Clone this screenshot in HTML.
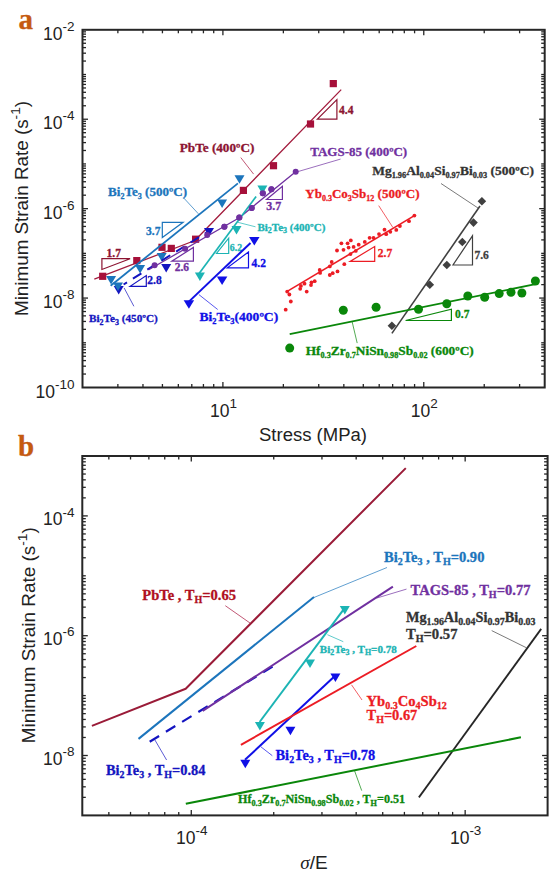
<!DOCTYPE html><html><head><meta charset="utf-8"><style>html,body{margin:0;padding:0;width:554px;height:873px;overflow:hidden;background:#fff}</style></head><body><svg width="554" height="873" viewBox="0 0 554 873" style="position:absolute;left:0;top:0">
<rect width="554" height="873" fill="#fff"/>
<text x="18.5" y="29" fill="#C55A11" stroke="#C55A11" stroke-width="0.3" font-family="Liberation Serif" font-weight="bold" font-size="29" >a</text>
<text x="18" y="455.6" fill="#C55A11" stroke="#C55A11" stroke-width="0.3" font-family="Liberation Serif" font-weight="bold" font-size="29" >b</text>
<line x1="117.87" y1="387.50" x2="117.87" y2="384.00" stroke="#262626" stroke-width="1.3" />
<line x1="117.87" y1="29.80" x2="117.87" y2="33.30" stroke="#262626" stroke-width="1.3" />
<line x1="142.97" y1="387.50" x2="142.97" y2="384.00" stroke="#262626" stroke-width="1.3" />
<line x1="142.97" y1="29.80" x2="142.97" y2="33.30" stroke="#262626" stroke-width="1.3" />
<line x1="162.43" y1="387.50" x2="162.43" y2="384.00" stroke="#262626" stroke-width="1.3" />
<line x1="162.43" y1="29.80" x2="162.43" y2="33.30" stroke="#262626" stroke-width="1.3" />
<line x1="178.34" y1="387.50" x2="178.34" y2="384.00" stroke="#262626" stroke-width="1.3" />
<line x1="178.34" y1="29.80" x2="178.34" y2="33.30" stroke="#262626" stroke-width="1.3" />
<line x1="191.79" y1="387.50" x2="191.79" y2="384.00" stroke="#262626" stroke-width="1.3" />
<line x1="191.79" y1="29.80" x2="191.79" y2="33.30" stroke="#262626" stroke-width="1.3" />
<line x1="203.43" y1="387.50" x2="203.43" y2="384.00" stroke="#262626" stroke-width="1.3" />
<line x1="203.43" y1="29.80" x2="203.43" y2="33.30" stroke="#262626" stroke-width="1.3" />
<line x1="213.71" y1="387.50" x2="213.71" y2="384.00" stroke="#262626" stroke-width="1.3" />
<line x1="213.71" y1="29.80" x2="213.71" y2="33.30" stroke="#262626" stroke-width="1.3" />
<line x1="222.90" y1="387.50" x2="222.90" y2="382.00" stroke="#262626" stroke-width="1.3" />
<line x1="222.90" y1="29.80" x2="222.90" y2="35.30" stroke="#262626" stroke-width="1.3" />
<line x1="283.37" y1="387.50" x2="283.37" y2="384.00" stroke="#262626" stroke-width="1.3" />
<line x1="283.37" y1="29.80" x2="283.37" y2="33.30" stroke="#262626" stroke-width="1.3" />
<line x1="318.74" y1="387.50" x2="318.74" y2="384.00" stroke="#262626" stroke-width="1.3" />
<line x1="318.74" y1="29.80" x2="318.74" y2="33.30" stroke="#262626" stroke-width="1.3" />
<line x1="343.83" y1="387.50" x2="343.83" y2="384.00" stroke="#262626" stroke-width="1.3" />
<line x1="343.83" y1="29.80" x2="343.83" y2="33.30" stroke="#262626" stroke-width="1.3" />
<line x1="363.30" y1="387.50" x2="363.30" y2="384.00" stroke="#262626" stroke-width="1.3" />
<line x1="363.30" y1="29.80" x2="363.30" y2="33.30" stroke="#262626" stroke-width="1.3" />
<line x1="379.20" y1="387.50" x2="379.20" y2="384.00" stroke="#262626" stroke-width="1.3" />
<line x1="379.20" y1="29.80" x2="379.20" y2="33.30" stroke="#262626" stroke-width="1.3" />
<line x1="392.65" y1="387.50" x2="392.65" y2="384.00" stroke="#262626" stroke-width="1.3" />
<line x1="392.65" y1="29.80" x2="392.65" y2="33.30" stroke="#262626" stroke-width="1.3" />
<line x1="404.30" y1="387.50" x2="404.30" y2="384.00" stroke="#262626" stroke-width="1.3" />
<line x1="404.30" y1="29.80" x2="404.30" y2="33.30" stroke="#262626" stroke-width="1.3" />
<line x1="414.58" y1="387.50" x2="414.58" y2="384.00" stroke="#262626" stroke-width="1.3" />
<line x1="414.58" y1="29.80" x2="414.58" y2="33.30" stroke="#262626" stroke-width="1.3" />
<line x1="423.77" y1="387.50" x2="423.77" y2="382.00" stroke="#262626" stroke-width="1.3" />
<line x1="423.77" y1="29.80" x2="423.77" y2="35.30" stroke="#262626" stroke-width="1.3" />
<line x1="484.23" y1="387.50" x2="484.23" y2="384.00" stroke="#262626" stroke-width="1.3" />
<line x1="484.23" y1="29.80" x2="484.23" y2="33.30" stroke="#262626" stroke-width="1.3" />
<line x1="519.60" y1="387.50" x2="519.60" y2="384.00" stroke="#262626" stroke-width="1.3" />
<line x1="519.60" y1="29.80" x2="519.60" y2="33.30" stroke="#262626" stroke-width="1.3" />
<line x1="82.50" y1="374.04" x2="86.00" y2="374.04" stroke="#262626" stroke-width="1.3" />
<line x1="544.70" y1="374.04" x2="541.20" y2="374.04" stroke="#262626" stroke-width="1.3" />
<line x1="82.50" y1="366.17" x2="86.00" y2="366.17" stroke="#262626" stroke-width="1.3" />
<line x1="544.70" y1="366.17" x2="541.20" y2="366.17" stroke="#262626" stroke-width="1.3" />
<line x1="82.50" y1="360.58" x2="86.00" y2="360.58" stroke="#262626" stroke-width="1.3" />
<line x1="544.70" y1="360.58" x2="541.20" y2="360.58" stroke="#262626" stroke-width="1.3" />
<line x1="82.50" y1="356.25" x2="86.00" y2="356.25" stroke="#262626" stroke-width="1.3" />
<line x1="544.70" y1="356.25" x2="541.20" y2="356.25" stroke="#262626" stroke-width="1.3" />
<line x1="82.50" y1="352.71" x2="86.00" y2="352.71" stroke="#262626" stroke-width="1.3" />
<line x1="544.70" y1="352.71" x2="541.20" y2="352.71" stroke="#262626" stroke-width="1.3" />
<line x1="82.50" y1="349.71" x2="86.00" y2="349.71" stroke="#262626" stroke-width="1.3" />
<line x1="544.70" y1="349.71" x2="541.20" y2="349.71" stroke="#262626" stroke-width="1.3" />
<line x1="82.50" y1="347.12" x2="86.00" y2="347.12" stroke="#262626" stroke-width="1.3" />
<line x1="544.70" y1="347.12" x2="541.20" y2="347.12" stroke="#262626" stroke-width="1.3" />
<line x1="82.50" y1="344.83" x2="86.00" y2="344.83" stroke="#262626" stroke-width="1.3" />
<line x1="544.70" y1="344.83" x2="541.20" y2="344.83" stroke="#262626" stroke-width="1.3" />
<line x1="82.50" y1="342.79" x2="86.00" y2="342.79" stroke="#262626" stroke-width="1.3" />
<line x1="544.70" y1="342.79" x2="541.20" y2="342.79" stroke="#262626" stroke-width="1.3" />
<line x1="82.50" y1="329.33" x2="86.00" y2="329.33" stroke="#262626" stroke-width="1.3" />
<line x1="544.70" y1="329.33" x2="541.20" y2="329.33" stroke="#262626" stroke-width="1.3" />
<line x1="82.50" y1="321.45" x2="86.00" y2="321.45" stroke="#262626" stroke-width="1.3" />
<line x1="544.70" y1="321.45" x2="541.20" y2="321.45" stroke="#262626" stroke-width="1.3" />
<line x1="82.50" y1="315.87" x2="86.00" y2="315.87" stroke="#262626" stroke-width="1.3" />
<line x1="544.70" y1="315.87" x2="541.20" y2="315.87" stroke="#262626" stroke-width="1.3" />
<line x1="82.50" y1="311.53" x2="86.00" y2="311.53" stroke="#262626" stroke-width="1.3" />
<line x1="544.70" y1="311.53" x2="541.20" y2="311.53" stroke="#262626" stroke-width="1.3" />
<line x1="82.50" y1="307.99" x2="86.00" y2="307.99" stroke="#262626" stroke-width="1.3" />
<line x1="544.70" y1="307.99" x2="541.20" y2="307.99" stroke="#262626" stroke-width="1.3" />
<line x1="82.50" y1="305.00" x2="86.00" y2="305.00" stroke="#262626" stroke-width="1.3" />
<line x1="544.70" y1="305.00" x2="541.20" y2="305.00" stroke="#262626" stroke-width="1.3" />
<line x1="82.50" y1="302.41" x2="86.00" y2="302.41" stroke="#262626" stroke-width="1.3" />
<line x1="544.70" y1="302.41" x2="541.20" y2="302.41" stroke="#262626" stroke-width="1.3" />
<line x1="82.50" y1="300.12" x2="86.00" y2="300.12" stroke="#262626" stroke-width="1.3" />
<line x1="544.70" y1="300.12" x2="541.20" y2="300.12" stroke="#262626" stroke-width="1.3" />
<line x1="82.50" y1="298.07" x2="88.00" y2="298.07" stroke="#262626" stroke-width="1.3" />
<line x1="544.70" y1="298.07" x2="539.20" y2="298.07" stroke="#262626" stroke-width="1.3" />
<line x1="82.50" y1="284.62" x2="86.00" y2="284.62" stroke="#262626" stroke-width="1.3" />
<line x1="544.70" y1="284.62" x2="541.20" y2="284.62" stroke="#262626" stroke-width="1.3" />
<line x1="82.50" y1="276.74" x2="86.00" y2="276.74" stroke="#262626" stroke-width="1.3" />
<line x1="544.70" y1="276.74" x2="541.20" y2="276.74" stroke="#262626" stroke-width="1.3" />
<line x1="82.50" y1="271.16" x2="86.00" y2="271.16" stroke="#262626" stroke-width="1.3" />
<line x1="544.70" y1="271.16" x2="541.20" y2="271.16" stroke="#262626" stroke-width="1.3" />
<line x1="82.50" y1="266.82" x2="86.00" y2="266.82" stroke="#262626" stroke-width="1.3" />
<line x1="544.70" y1="266.82" x2="541.20" y2="266.82" stroke="#262626" stroke-width="1.3" />
<line x1="82.50" y1="263.28" x2="86.00" y2="263.28" stroke="#262626" stroke-width="1.3" />
<line x1="544.70" y1="263.28" x2="541.20" y2="263.28" stroke="#262626" stroke-width="1.3" />
<line x1="82.50" y1="260.29" x2="86.00" y2="260.29" stroke="#262626" stroke-width="1.3" />
<line x1="544.70" y1="260.29" x2="541.20" y2="260.29" stroke="#262626" stroke-width="1.3" />
<line x1="82.50" y1="257.70" x2="86.00" y2="257.70" stroke="#262626" stroke-width="1.3" />
<line x1="544.70" y1="257.70" x2="541.20" y2="257.70" stroke="#262626" stroke-width="1.3" />
<line x1="82.50" y1="255.41" x2="86.00" y2="255.41" stroke="#262626" stroke-width="1.3" />
<line x1="544.70" y1="255.41" x2="541.20" y2="255.41" stroke="#262626" stroke-width="1.3" />
<line x1="82.50" y1="253.36" x2="86.00" y2="253.36" stroke="#262626" stroke-width="1.3" />
<line x1="544.70" y1="253.36" x2="541.20" y2="253.36" stroke="#262626" stroke-width="1.3" />
<line x1="82.50" y1="239.90" x2="86.00" y2="239.90" stroke="#262626" stroke-width="1.3" />
<line x1="544.70" y1="239.90" x2="541.20" y2="239.90" stroke="#262626" stroke-width="1.3" />
<line x1="82.50" y1="232.03" x2="86.00" y2="232.03" stroke="#262626" stroke-width="1.3" />
<line x1="544.70" y1="232.03" x2="541.20" y2="232.03" stroke="#262626" stroke-width="1.3" />
<line x1="82.50" y1="226.44" x2="86.00" y2="226.44" stroke="#262626" stroke-width="1.3" />
<line x1="544.70" y1="226.44" x2="541.20" y2="226.44" stroke="#262626" stroke-width="1.3" />
<line x1="82.50" y1="222.11" x2="86.00" y2="222.11" stroke="#262626" stroke-width="1.3" />
<line x1="544.70" y1="222.11" x2="541.20" y2="222.11" stroke="#262626" stroke-width="1.3" />
<line x1="82.50" y1="218.57" x2="86.00" y2="218.57" stroke="#262626" stroke-width="1.3" />
<line x1="544.70" y1="218.57" x2="541.20" y2="218.57" stroke="#262626" stroke-width="1.3" />
<line x1="82.50" y1="215.58" x2="86.00" y2="215.58" stroke="#262626" stroke-width="1.3" />
<line x1="544.70" y1="215.58" x2="541.20" y2="215.58" stroke="#262626" stroke-width="1.3" />
<line x1="82.50" y1="212.98" x2="86.00" y2="212.98" stroke="#262626" stroke-width="1.3" />
<line x1="544.70" y1="212.98" x2="541.20" y2="212.98" stroke="#262626" stroke-width="1.3" />
<line x1="82.50" y1="210.70" x2="86.00" y2="210.70" stroke="#262626" stroke-width="1.3" />
<line x1="544.70" y1="210.70" x2="541.20" y2="210.70" stroke="#262626" stroke-width="1.3" />
<line x1="82.50" y1="208.65" x2="88.00" y2="208.65" stroke="#262626" stroke-width="1.3" />
<line x1="544.70" y1="208.65" x2="539.20" y2="208.65" stroke="#262626" stroke-width="1.3" />
<line x1="82.50" y1="195.19" x2="86.00" y2="195.19" stroke="#262626" stroke-width="1.3" />
<line x1="544.70" y1="195.19" x2="541.20" y2="195.19" stroke="#262626" stroke-width="1.3" />
<line x1="82.50" y1="187.32" x2="86.00" y2="187.32" stroke="#262626" stroke-width="1.3" />
<line x1="544.70" y1="187.32" x2="541.20" y2="187.32" stroke="#262626" stroke-width="1.3" />
<line x1="82.50" y1="181.73" x2="86.00" y2="181.73" stroke="#262626" stroke-width="1.3" />
<line x1="544.70" y1="181.73" x2="541.20" y2="181.73" stroke="#262626" stroke-width="1.3" />
<line x1="82.50" y1="177.40" x2="86.00" y2="177.40" stroke="#262626" stroke-width="1.3" />
<line x1="544.70" y1="177.40" x2="541.20" y2="177.40" stroke="#262626" stroke-width="1.3" />
<line x1="82.50" y1="173.86" x2="86.00" y2="173.86" stroke="#262626" stroke-width="1.3" />
<line x1="544.70" y1="173.86" x2="541.20" y2="173.86" stroke="#262626" stroke-width="1.3" />
<line x1="82.50" y1="170.86" x2="86.00" y2="170.86" stroke="#262626" stroke-width="1.3" />
<line x1="544.70" y1="170.86" x2="541.20" y2="170.86" stroke="#262626" stroke-width="1.3" />
<line x1="82.50" y1="168.27" x2="86.00" y2="168.27" stroke="#262626" stroke-width="1.3" />
<line x1="544.70" y1="168.27" x2="541.20" y2="168.27" stroke="#262626" stroke-width="1.3" />
<line x1="82.50" y1="165.98" x2="86.00" y2="165.98" stroke="#262626" stroke-width="1.3" />
<line x1="544.70" y1="165.98" x2="541.20" y2="165.98" stroke="#262626" stroke-width="1.3" />
<line x1="82.50" y1="163.94" x2="86.00" y2="163.94" stroke="#262626" stroke-width="1.3" />
<line x1="544.70" y1="163.94" x2="541.20" y2="163.94" stroke="#262626" stroke-width="1.3" />
<line x1="82.50" y1="150.48" x2="86.00" y2="150.48" stroke="#262626" stroke-width="1.3" />
<line x1="544.70" y1="150.48" x2="541.20" y2="150.48" stroke="#262626" stroke-width="1.3" />
<line x1="82.50" y1="142.60" x2="86.00" y2="142.60" stroke="#262626" stroke-width="1.3" />
<line x1="544.70" y1="142.60" x2="541.20" y2="142.60" stroke="#262626" stroke-width="1.3" />
<line x1="82.50" y1="137.02" x2="86.00" y2="137.02" stroke="#262626" stroke-width="1.3" />
<line x1="544.70" y1="137.02" x2="541.20" y2="137.02" stroke="#262626" stroke-width="1.3" />
<line x1="82.50" y1="132.68" x2="86.00" y2="132.68" stroke="#262626" stroke-width="1.3" />
<line x1="544.70" y1="132.68" x2="541.20" y2="132.68" stroke="#262626" stroke-width="1.3" />
<line x1="82.50" y1="129.14" x2="86.00" y2="129.14" stroke="#262626" stroke-width="1.3" />
<line x1="544.70" y1="129.14" x2="541.20" y2="129.14" stroke="#262626" stroke-width="1.3" />
<line x1="82.50" y1="126.15" x2="86.00" y2="126.15" stroke="#262626" stroke-width="1.3" />
<line x1="544.70" y1="126.15" x2="541.20" y2="126.15" stroke="#262626" stroke-width="1.3" />
<line x1="82.50" y1="123.56" x2="86.00" y2="123.56" stroke="#262626" stroke-width="1.3" />
<line x1="544.70" y1="123.56" x2="541.20" y2="123.56" stroke="#262626" stroke-width="1.3" />
<line x1="82.50" y1="121.27" x2="86.00" y2="121.27" stroke="#262626" stroke-width="1.3" />
<line x1="544.70" y1="121.27" x2="541.20" y2="121.27" stroke="#262626" stroke-width="1.3" />
<line x1="82.50" y1="119.23" x2="88.00" y2="119.23" stroke="#262626" stroke-width="1.3" />
<line x1="544.70" y1="119.23" x2="539.20" y2="119.23" stroke="#262626" stroke-width="1.3" />
<line x1="82.50" y1="105.77" x2="86.00" y2="105.77" stroke="#262626" stroke-width="1.3" />
<line x1="544.70" y1="105.77" x2="541.20" y2="105.77" stroke="#262626" stroke-width="1.3" />
<line x1="82.50" y1="97.89" x2="86.00" y2="97.89" stroke="#262626" stroke-width="1.3" />
<line x1="544.70" y1="97.89" x2="541.20" y2="97.89" stroke="#262626" stroke-width="1.3" />
<line x1="82.50" y1="92.31" x2="86.00" y2="92.31" stroke="#262626" stroke-width="1.3" />
<line x1="544.70" y1="92.31" x2="541.20" y2="92.31" stroke="#262626" stroke-width="1.3" />
<line x1="82.50" y1="87.97" x2="86.00" y2="87.97" stroke="#262626" stroke-width="1.3" />
<line x1="544.70" y1="87.97" x2="541.20" y2="87.97" stroke="#262626" stroke-width="1.3" />
<line x1="82.50" y1="84.43" x2="86.00" y2="84.43" stroke="#262626" stroke-width="1.3" />
<line x1="544.70" y1="84.43" x2="541.20" y2="84.43" stroke="#262626" stroke-width="1.3" />
<line x1="82.50" y1="81.44" x2="86.00" y2="81.44" stroke="#262626" stroke-width="1.3" />
<line x1="544.70" y1="81.44" x2="541.20" y2="81.44" stroke="#262626" stroke-width="1.3" />
<line x1="82.50" y1="78.85" x2="86.00" y2="78.85" stroke="#262626" stroke-width="1.3" />
<line x1="544.70" y1="78.85" x2="541.20" y2="78.85" stroke="#262626" stroke-width="1.3" />
<line x1="82.50" y1="76.56" x2="86.00" y2="76.56" stroke="#262626" stroke-width="1.3" />
<line x1="544.70" y1="76.56" x2="541.20" y2="76.56" stroke="#262626" stroke-width="1.3" />
<line x1="82.50" y1="74.51" x2="86.00" y2="74.51" stroke="#262626" stroke-width="1.3" />
<line x1="544.70" y1="74.51" x2="541.20" y2="74.51" stroke="#262626" stroke-width="1.3" />
<line x1="82.50" y1="61.05" x2="86.00" y2="61.05" stroke="#262626" stroke-width="1.3" />
<line x1="544.70" y1="61.05" x2="541.20" y2="61.05" stroke="#262626" stroke-width="1.3" />
<line x1="82.50" y1="53.18" x2="86.00" y2="53.18" stroke="#262626" stroke-width="1.3" />
<line x1="544.70" y1="53.18" x2="541.20" y2="53.18" stroke="#262626" stroke-width="1.3" />
<line x1="82.50" y1="47.59" x2="86.00" y2="47.59" stroke="#262626" stroke-width="1.3" />
<line x1="544.70" y1="47.59" x2="541.20" y2="47.59" stroke="#262626" stroke-width="1.3" />
<line x1="82.50" y1="43.26" x2="86.00" y2="43.26" stroke="#262626" stroke-width="1.3" />
<line x1="544.70" y1="43.26" x2="541.20" y2="43.26" stroke="#262626" stroke-width="1.3" />
<line x1="82.50" y1="39.72" x2="86.00" y2="39.72" stroke="#262626" stroke-width="1.3" />
<line x1="544.70" y1="39.72" x2="541.20" y2="39.72" stroke="#262626" stroke-width="1.3" />
<line x1="82.50" y1="36.73" x2="86.00" y2="36.73" stroke="#262626" stroke-width="1.3" />
<line x1="544.70" y1="36.73" x2="541.20" y2="36.73" stroke="#262626" stroke-width="1.3" />
<line x1="82.50" y1="34.13" x2="86.00" y2="34.13" stroke="#262626" stroke-width="1.3" />
<line x1="544.70" y1="34.13" x2="541.20" y2="34.13" stroke="#262626" stroke-width="1.3" />
<line x1="82.50" y1="31.85" x2="86.00" y2="31.85" stroke="#262626" stroke-width="1.3" />
<line x1="544.70" y1="31.85" x2="541.20" y2="31.85" stroke="#262626" stroke-width="1.3" />
<rect x="82.5" y="29.8" width="462.20" height="357.70" fill="none" stroke="#262626" stroke-width="2"/>
<text x="74.5" y="39.80" text-anchor="end" fill="#222" font-family="Liberation Sans" font-size="17.5">10<tspan font-size="13.5" dy="-8.8">-2</tspan></text>
<text x="74.5" y="129.23" text-anchor="end" fill="#222" font-family="Liberation Sans" font-size="17.5">10<tspan font-size="13.5" dy="-8.8">-4</tspan></text>
<text x="74.5" y="218.65" text-anchor="end" fill="#222" font-family="Liberation Sans" font-size="17.5">10<tspan font-size="13.5" dy="-8.8">-6</tspan></text>
<text x="74.5" y="308.07" text-anchor="end" fill="#222" font-family="Liberation Sans" font-size="17.5">10<tspan font-size="13.5" dy="-8.8">-8</tspan></text>
<text x="74.5" y="397.50" text-anchor="end" fill="#222" font-family="Liberation Sans" font-size="17.5">10<tspan font-size="13.5" dy="-8.8">-10</tspan></text>
<text x="223.40" y="417.00" text-anchor="middle" fill="#222" font-family="Liberation Sans" font-size="17.5">10<tspan font-size="13.5" dy="-8.8">1</tspan></text>
<text x="424.27" y="417.00" text-anchor="middle" fill="#222" font-family="Liberation Sans" font-size="17.5">10<tspan font-size="13.5" dy="-8.8">2</tspan></text>
<text x="313" y="440.6" text-anchor="middle" fill="#222" font-family="Liberation Sans" font-size="17.5" textLength="108" lengthAdjust="spacingAndGlyphs">Stress (MPa)</text>
<text transform="translate(28.3,208.5) rotate(-90)" text-anchor="middle" fill="#222" font-family="Liberation Sans" font-size="18" textLength="215" lengthAdjust="spacingAndGlyphs">Minimum Strain Rate (s<tspan font-size="13" dy="-8">-1</tspan><tspan dy="8">)</tspan></text>
<line x1="108.84" y1="815.40" x2="108.84" y2="811.90" stroke="#262626" stroke-width="1.3" />
<line x1="108.84" y1="456.00" x2="108.84" y2="459.50" stroke="#262626" stroke-width="1.3" />
<line x1="130.53" y1="815.40" x2="130.53" y2="811.90" stroke="#262626" stroke-width="1.3" />
<line x1="130.53" y1="456.00" x2="130.53" y2="459.50" stroke="#262626" stroke-width="1.3" />
<line x1="148.86" y1="815.40" x2="148.86" y2="811.90" stroke="#262626" stroke-width="1.3" />
<line x1="148.86" y1="456.00" x2="148.86" y2="459.50" stroke="#262626" stroke-width="1.3" />
<line x1="164.74" y1="815.40" x2="164.74" y2="811.90" stroke="#262626" stroke-width="1.3" />
<line x1="164.74" y1="456.00" x2="164.74" y2="459.50" stroke="#262626" stroke-width="1.3" />
<line x1="178.75" y1="815.40" x2="178.75" y2="811.90" stroke="#262626" stroke-width="1.3" />
<line x1="178.75" y1="456.00" x2="178.75" y2="459.50" stroke="#262626" stroke-width="1.3" />
<line x1="191.28" y1="815.40" x2="191.28" y2="809.90" stroke="#262626" stroke-width="1.3" />
<line x1="191.28" y1="456.00" x2="191.28" y2="461.50" stroke="#262626" stroke-width="1.3" />
<line x1="273.73" y1="815.40" x2="273.73" y2="811.90" stroke="#262626" stroke-width="1.3" />
<line x1="273.73" y1="456.00" x2="273.73" y2="459.50" stroke="#262626" stroke-width="1.3" />
<line x1="321.95" y1="815.40" x2="321.95" y2="811.90" stroke="#262626" stroke-width="1.3" />
<line x1="321.95" y1="456.00" x2="321.95" y2="459.50" stroke="#262626" stroke-width="1.3" />
<line x1="356.17" y1="815.40" x2="356.17" y2="811.90" stroke="#262626" stroke-width="1.3" />
<line x1="356.17" y1="456.00" x2="356.17" y2="459.50" stroke="#262626" stroke-width="1.3" />
<line x1="382.71" y1="815.40" x2="382.71" y2="811.90" stroke="#262626" stroke-width="1.3" />
<line x1="382.71" y1="456.00" x2="382.71" y2="459.50" stroke="#262626" stroke-width="1.3" />
<line x1="404.40" y1="815.40" x2="404.40" y2="811.90" stroke="#262626" stroke-width="1.3" />
<line x1="404.40" y1="456.00" x2="404.40" y2="459.50" stroke="#262626" stroke-width="1.3" />
<line x1="422.73" y1="815.40" x2="422.73" y2="811.90" stroke="#262626" stroke-width="1.3" />
<line x1="422.73" y1="456.00" x2="422.73" y2="459.50" stroke="#262626" stroke-width="1.3" />
<line x1="438.62" y1="815.40" x2="438.62" y2="811.90" stroke="#262626" stroke-width="1.3" />
<line x1="438.62" y1="456.00" x2="438.62" y2="459.50" stroke="#262626" stroke-width="1.3" />
<line x1="452.62" y1="815.40" x2="452.62" y2="811.90" stroke="#262626" stroke-width="1.3" />
<line x1="452.62" y1="456.00" x2="452.62" y2="459.50" stroke="#262626" stroke-width="1.3" />
<line x1="465.16" y1="815.40" x2="465.16" y2="809.90" stroke="#262626" stroke-width="1.3" />
<line x1="465.16" y1="456.00" x2="465.16" y2="461.50" stroke="#262626" stroke-width="1.3" />
<line x1="82.30" y1="797.37" x2="85.80" y2="797.37" stroke="#262626" stroke-width="1.3" />
<line x1="547.60" y1="797.37" x2="544.10" y2="797.37" stroke="#262626" stroke-width="1.3" />
<line x1="82.30" y1="786.82" x2="85.80" y2="786.82" stroke="#262626" stroke-width="1.3" />
<line x1="547.60" y1="786.82" x2="544.10" y2="786.82" stroke="#262626" stroke-width="1.3" />
<line x1="82.30" y1="779.34" x2="85.80" y2="779.34" stroke="#262626" stroke-width="1.3" />
<line x1="547.60" y1="779.34" x2="544.10" y2="779.34" stroke="#262626" stroke-width="1.3" />
<line x1="82.30" y1="773.53" x2="85.80" y2="773.53" stroke="#262626" stroke-width="1.3" />
<line x1="547.60" y1="773.53" x2="544.10" y2="773.53" stroke="#262626" stroke-width="1.3" />
<line x1="82.30" y1="768.79" x2="85.80" y2="768.79" stroke="#262626" stroke-width="1.3" />
<line x1="547.60" y1="768.79" x2="544.10" y2="768.79" stroke="#262626" stroke-width="1.3" />
<line x1="82.30" y1="764.78" x2="85.80" y2="764.78" stroke="#262626" stroke-width="1.3" />
<line x1="547.60" y1="764.78" x2="544.10" y2="764.78" stroke="#262626" stroke-width="1.3" />
<line x1="82.30" y1="761.30" x2="85.80" y2="761.30" stroke="#262626" stroke-width="1.3" />
<line x1="547.60" y1="761.30" x2="544.10" y2="761.30" stroke="#262626" stroke-width="1.3" />
<line x1="82.30" y1="758.24" x2="85.80" y2="758.24" stroke="#262626" stroke-width="1.3" />
<line x1="547.60" y1="758.24" x2="544.10" y2="758.24" stroke="#262626" stroke-width="1.3" />
<line x1="82.30" y1="755.50" x2="87.80" y2="755.50" stroke="#262626" stroke-width="1.3" />
<line x1="547.60" y1="755.50" x2="542.10" y2="755.50" stroke="#262626" stroke-width="1.3" />
<line x1="82.30" y1="737.47" x2="85.80" y2="737.47" stroke="#262626" stroke-width="1.3" />
<line x1="547.60" y1="737.47" x2="544.10" y2="737.47" stroke="#262626" stroke-width="1.3" />
<line x1="82.30" y1="726.92" x2="85.80" y2="726.92" stroke="#262626" stroke-width="1.3" />
<line x1="547.60" y1="726.92" x2="544.10" y2="726.92" stroke="#262626" stroke-width="1.3" />
<line x1="82.30" y1="719.44" x2="85.80" y2="719.44" stroke="#262626" stroke-width="1.3" />
<line x1="547.60" y1="719.44" x2="544.10" y2="719.44" stroke="#262626" stroke-width="1.3" />
<line x1="82.30" y1="713.63" x2="85.80" y2="713.63" stroke="#262626" stroke-width="1.3" />
<line x1="547.60" y1="713.63" x2="544.10" y2="713.63" stroke="#262626" stroke-width="1.3" />
<line x1="82.30" y1="708.89" x2="85.80" y2="708.89" stroke="#262626" stroke-width="1.3" />
<line x1="547.60" y1="708.89" x2="544.10" y2="708.89" stroke="#262626" stroke-width="1.3" />
<line x1="82.30" y1="704.88" x2="85.80" y2="704.88" stroke="#262626" stroke-width="1.3" />
<line x1="547.60" y1="704.88" x2="544.10" y2="704.88" stroke="#262626" stroke-width="1.3" />
<line x1="82.30" y1="701.40" x2="85.80" y2="701.40" stroke="#262626" stroke-width="1.3" />
<line x1="547.60" y1="701.40" x2="544.10" y2="701.40" stroke="#262626" stroke-width="1.3" />
<line x1="82.30" y1="698.34" x2="85.80" y2="698.34" stroke="#262626" stroke-width="1.3" />
<line x1="547.60" y1="698.34" x2="544.10" y2="698.34" stroke="#262626" stroke-width="1.3" />
<line x1="82.30" y1="695.60" x2="85.80" y2="695.60" stroke="#262626" stroke-width="1.3" />
<line x1="547.60" y1="695.60" x2="544.10" y2="695.60" stroke="#262626" stroke-width="1.3" />
<line x1="82.30" y1="677.57" x2="85.80" y2="677.57" stroke="#262626" stroke-width="1.3" />
<line x1="547.60" y1="677.57" x2="544.10" y2="677.57" stroke="#262626" stroke-width="1.3" />
<line x1="82.30" y1="667.02" x2="85.80" y2="667.02" stroke="#262626" stroke-width="1.3" />
<line x1="547.60" y1="667.02" x2="544.10" y2="667.02" stroke="#262626" stroke-width="1.3" />
<line x1="82.30" y1="659.54" x2="85.80" y2="659.54" stroke="#262626" stroke-width="1.3" />
<line x1="547.60" y1="659.54" x2="544.10" y2="659.54" stroke="#262626" stroke-width="1.3" />
<line x1="82.30" y1="653.73" x2="85.80" y2="653.73" stroke="#262626" stroke-width="1.3" />
<line x1="547.60" y1="653.73" x2="544.10" y2="653.73" stroke="#262626" stroke-width="1.3" />
<line x1="82.30" y1="648.99" x2="85.80" y2="648.99" stroke="#262626" stroke-width="1.3" />
<line x1="547.60" y1="648.99" x2="544.10" y2="648.99" stroke="#262626" stroke-width="1.3" />
<line x1="82.30" y1="644.98" x2="85.80" y2="644.98" stroke="#262626" stroke-width="1.3" />
<line x1="547.60" y1="644.98" x2="544.10" y2="644.98" stroke="#262626" stroke-width="1.3" />
<line x1="82.30" y1="641.50" x2="85.80" y2="641.50" stroke="#262626" stroke-width="1.3" />
<line x1="547.60" y1="641.50" x2="544.10" y2="641.50" stroke="#262626" stroke-width="1.3" />
<line x1="82.30" y1="638.44" x2="85.80" y2="638.44" stroke="#262626" stroke-width="1.3" />
<line x1="547.60" y1="638.44" x2="544.10" y2="638.44" stroke="#262626" stroke-width="1.3" />
<line x1="82.30" y1="635.70" x2="87.80" y2="635.70" stroke="#262626" stroke-width="1.3" />
<line x1="547.60" y1="635.70" x2="542.10" y2="635.70" stroke="#262626" stroke-width="1.3" />
<line x1="82.30" y1="617.67" x2="85.80" y2="617.67" stroke="#262626" stroke-width="1.3" />
<line x1="547.60" y1="617.67" x2="544.10" y2="617.67" stroke="#262626" stroke-width="1.3" />
<line x1="82.30" y1="607.12" x2="85.80" y2="607.12" stroke="#262626" stroke-width="1.3" />
<line x1="547.60" y1="607.12" x2="544.10" y2="607.12" stroke="#262626" stroke-width="1.3" />
<line x1="82.30" y1="599.64" x2="85.80" y2="599.64" stroke="#262626" stroke-width="1.3" />
<line x1="547.60" y1="599.64" x2="544.10" y2="599.64" stroke="#262626" stroke-width="1.3" />
<line x1="82.30" y1="593.83" x2="85.80" y2="593.83" stroke="#262626" stroke-width="1.3" />
<line x1="547.60" y1="593.83" x2="544.10" y2="593.83" stroke="#262626" stroke-width="1.3" />
<line x1="82.30" y1="589.09" x2="85.80" y2="589.09" stroke="#262626" stroke-width="1.3" />
<line x1="547.60" y1="589.09" x2="544.10" y2="589.09" stroke="#262626" stroke-width="1.3" />
<line x1="82.30" y1="585.08" x2="85.80" y2="585.08" stroke="#262626" stroke-width="1.3" />
<line x1="547.60" y1="585.08" x2="544.10" y2="585.08" stroke="#262626" stroke-width="1.3" />
<line x1="82.30" y1="581.60" x2="85.80" y2="581.60" stroke="#262626" stroke-width="1.3" />
<line x1="547.60" y1="581.60" x2="544.10" y2="581.60" stroke="#262626" stroke-width="1.3" />
<line x1="82.30" y1="578.54" x2="85.80" y2="578.54" stroke="#262626" stroke-width="1.3" />
<line x1="547.60" y1="578.54" x2="544.10" y2="578.54" stroke="#262626" stroke-width="1.3" />
<line x1="82.30" y1="575.80" x2="85.80" y2="575.80" stroke="#262626" stroke-width="1.3" />
<line x1="547.60" y1="575.80" x2="544.10" y2="575.80" stroke="#262626" stroke-width="1.3" />
<line x1="82.30" y1="557.77" x2="85.80" y2="557.77" stroke="#262626" stroke-width="1.3" />
<line x1="547.60" y1="557.77" x2="544.10" y2="557.77" stroke="#262626" stroke-width="1.3" />
<line x1="82.30" y1="547.22" x2="85.80" y2="547.22" stroke="#262626" stroke-width="1.3" />
<line x1="547.60" y1="547.22" x2="544.10" y2="547.22" stroke="#262626" stroke-width="1.3" />
<line x1="82.30" y1="539.74" x2="85.80" y2="539.74" stroke="#262626" stroke-width="1.3" />
<line x1="547.60" y1="539.74" x2="544.10" y2="539.74" stroke="#262626" stroke-width="1.3" />
<line x1="82.30" y1="533.93" x2="85.80" y2="533.93" stroke="#262626" stroke-width="1.3" />
<line x1="547.60" y1="533.93" x2="544.10" y2="533.93" stroke="#262626" stroke-width="1.3" />
<line x1="82.30" y1="529.19" x2="85.80" y2="529.19" stroke="#262626" stroke-width="1.3" />
<line x1="547.60" y1="529.19" x2="544.10" y2="529.19" stroke="#262626" stroke-width="1.3" />
<line x1="82.30" y1="525.18" x2="85.80" y2="525.18" stroke="#262626" stroke-width="1.3" />
<line x1="547.60" y1="525.18" x2="544.10" y2="525.18" stroke="#262626" stroke-width="1.3" />
<line x1="82.30" y1="521.70" x2="85.80" y2="521.70" stroke="#262626" stroke-width="1.3" />
<line x1="547.60" y1="521.70" x2="544.10" y2="521.70" stroke="#262626" stroke-width="1.3" />
<line x1="82.30" y1="518.64" x2="85.80" y2="518.64" stroke="#262626" stroke-width="1.3" />
<line x1="547.60" y1="518.64" x2="544.10" y2="518.64" stroke="#262626" stroke-width="1.3" />
<line x1="82.30" y1="515.90" x2="87.80" y2="515.90" stroke="#262626" stroke-width="1.3" />
<line x1="547.60" y1="515.90" x2="542.10" y2="515.90" stroke="#262626" stroke-width="1.3" />
<line x1="82.30" y1="497.87" x2="85.80" y2="497.87" stroke="#262626" stroke-width="1.3" />
<line x1="547.60" y1="497.87" x2="544.10" y2="497.87" stroke="#262626" stroke-width="1.3" />
<line x1="82.30" y1="487.32" x2="85.80" y2="487.32" stroke="#262626" stroke-width="1.3" />
<line x1="547.60" y1="487.32" x2="544.10" y2="487.32" stroke="#262626" stroke-width="1.3" />
<line x1="82.30" y1="479.84" x2="85.80" y2="479.84" stroke="#262626" stroke-width="1.3" />
<line x1="547.60" y1="479.84" x2="544.10" y2="479.84" stroke="#262626" stroke-width="1.3" />
<line x1="82.30" y1="474.03" x2="85.80" y2="474.03" stroke="#262626" stroke-width="1.3" />
<line x1="547.60" y1="474.03" x2="544.10" y2="474.03" stroke="#262626" stroke-width="1.3" />
<line x1="82.30" y1="469.29" x2="85.80" y2="469.29" stroke="#262626" stroke-width="1.3" />
<line x1="547.60" y1="469.29" x2="544.10" y2="469.29" stroke="#262626" stroke-width="1.3" />
<line x1="82.30" y1="465.28" x2="85.80" y2="465.28" stroke="#262626" stroke-width="1.3" />
<line x1="547.60" y1="465.28" x2="544.10" y2="465.28" stroke="#262626" stroke-width="1.3" />
<line x1="82.30" y1="461.80" x2="85.80" y2="461.80" stroke="#262626" stroke-width="1.3" />
<line x1="547.60" y1="461.80" x2="544.10" y2="461.80" stroke="#262626" stroke-width="1.3" />
<line x1="82.30" y1="458.74" x2="85.80" y2="458.74" stroke="#262626" stroke-width="1.3" />
<line x1="547.60" y1="458.74" x2="544.10" y2="458.74" stroke="#262626" stroke-width="1.3" />
<rect x="82.3" y="456.0" width="465.30" height="359.40" fill="none" stroke="#262626" stroke-width="2"/>
<text x="74.5" y="525.40" text-anchor="end" fill="#222" font-family="Liberation Sans" font-size="17.5">10<tspan font-size="13.5" dy="-8.8">-4</tspan></text>
<text x="74.5" y="645.20" text-anchor="end" fill="#222" font-family="Liberation Sans" font-size="17.5">10<tspan font-size="13.5" dy="-8.8">-6</tspan></text>
<text x="74.5" y="765.00" text-anchor="end" fill="#222" font-family="Liberation Sans" font-size="17.5">10<tspan font-size="13.5" dy="-8.8">-8</tspan></text>
<text x="191.78" y="844.20" text-anchor="middle" fill="#222" font-family="Liberation Sans" font-size="17.5">10<tspan font-size="13.5" dy="-8.8">-4</tspan></text>
<text x="465.66" y="844.20" text-anchor="middle" fill="#222" font-family="Liberation Sans" font-size="17.5">10<tspan font-size="13.5" dy="-8.8">-3</tspan></text>
<text x="314" y="868.6" text-anchor="middle" fill="#222" font-size="19"><tspan font-family="Liberation Serif" font-style="italic">σ</tspan><tspan font-family="Liberation Sans">/E</tspan></text>
<text transform="translate(35.2,635.3) rotate(-90)" text-anchor="middle" fill="#222" font-family="Liberation Sans" font-size="18" textLength="216" lengthAdjust="spacingAndGlyphs">Minimum Strain Rate (s<tspan font-size="13" dy="-8">-1</tspan><tspan dy="8">)</tspan></text>
<polyline points="94.30,279.20 194.90,240.50 341.20,89.60" fill="none" stroke="#A31D3E" stroke-width="1.3" stroke-linejoin="round" />
<rect x="99.10" y="272.70" width="7.2" height="7.2" fill="#A6103A"/>
<rect x="133.20" y="257.00" width="7.2" height="7.2" fill="#A6103A"/>
<rect x="158.40" y="243.70" width="7.2" height="7.2" fill="#A6103A"/>
<rect x="167.70" y="244.80" width="7.2" height="7.2" fill="#A6103A"/>
<rect x="192.00" y="235.60" width="7.2" height="7.2" fill="#A6103A"/>
<rect x="239.80" y="186.80" width="7.2" height="7.2" fill="#A6103A"/>
<rect x="269.90" y="162.10" width="7.2" height="7.2" fill="#A6103A"/>
<rect x="306.90" y="120.40" width="7.2" height="7.2" fill="#A6103A"/>
<rect x="329.70" y="80.00" width="7.2" height="7.2" fill="#A6103A"/>
<polygon points="101.90,258.70 101.90,269.50 130.10,258.70" fill="none" stroke="#8C1432" stroke-width="1.2"/>
<text x="106.5" y="257" fill="#8C1432" stroke="#8C1432" stroke-width="0.3" font-family="Liberation Serif" font-weight="bold" font-size="11.5" >1.7</text>
<polygon points="317.40,119.20 336.90,119.20 336.90,99.60" fill="none" stroke="#8C1432" stroke-width="1.2"/>
<text x="339" y="113.7" fill="#8C1432" stroke="#8C1432" stroke-width="0.3" font-family="Liberation Serif" font-weight="bold" font-size="11.5" >4.4</text>
<text x="179.8" y="151.7" fill="#8C1432" stroke="#8C1432" stroke-width="0.3" font-family="Liberation Serif" font-weight="bold" font-size="13"  textLength="74.5" lengthAdjust="spacingAndGlyphs">PbTe (400ºC)</text>
<line x1="240.80" y1="157.60" x2="253.60" y2="174.10" stroke="#A6103A" stroke-width="0.7" />
<line x1="110.60" y1="285.70" x2="237.90" y2="183.40" stroke="#1C75BC" stroke-width="1.8" />
<polygon points="106.10,276.00 116.10,276.00 111.10,284.50" fill="#1C75BC"/>
<polygon points="135.10,265.00 145.10,265.00 140.10,273.50" fill="#1C75BC"/>
<polygon points="156.70,252.90 166.70,252.90 161.70,261.40" fill="#1C75BC"/>
<polygon points="217.10,199.50 227.10,199.50 222.10,208.00" fill="#1C75BC"/>
<polygon points="234.50,175.20 244.50,175.20 239.50,183.70" fill="#1C75BC"/>
<polygon points="162.30,222.30 162.30,237.50 183.10,222.30" fill="none" stroke="#1C75BC" stroke-width="1.2"/>
<text x="146" y="234.6" fill="#1C75BC" stroke="#1C75BC" stroke-width="0.3" font-family="Liberation Serif" font-weight="bold" font-size="11.5" >3.7</text>
<text x="108.1" y="195.8" fill="#1C75BC" stroke="#1C75BC" stroke-width="0.3" font-family="Liberation Serif" font-weight="bold" font-size="13"  textLength="79" lengthAdjust="spacingAndGlyphs">Bi<tspan font-size="8" dy="3">2</tspan><tspan dy="-3">Te</tspan><tspan font-size="8" dy="3">3</tspan><tspan dy="-3"> (500ºC)</tspan></text>
<line x1="183.40" y1="197.60" x2="198.40" y2="213.80" stroke="#1C75BC" stroke-width="0.7" />
<line x1="123.60" y1="284.50" x2="208.40" y2="231.30" stroke="#1414C0" stroke-width="2" stroke-dasharray="10,7" stroke-dashoffset="6"/>
<polygon points="113.70,286.00 123.70,286.00 118.70,294.50" fill="#1414C0"/>
<polygon points="161.20,264.00 171.20,264.00 166.20,272.50" fill="#1414C0"/>
<polygon points="204.00,228.00 214.00,228.00 209.00,236.50" fill="#1414C0"/>
<polygon points="113.00,282.50 123.00,282.50 118.00,291.00" fill="#1C75BC"/>
<polygon points="130.10,286.30 146.30,286.30 146.30,275.50" fill="none" stroke="#1414C0" stroke-width="1.2"/>
<text x="147.3" y="284.2" fill="#1414C0" stroke="#1414C0" stroke-width="0.3" font-family="Liberation Serif" font-weight="bold" font-size="11.5" >2.8</text>
<text x="89" y="322" fill="#1414C0" stroke="#1414C0" stroke-width="0.3" font-family="Liberation Serif" font-weight="bold" font-size="11.3"  textLength="68.8" lengthAdjust="spacingAndGlyphs">Bi<tspan font-size="8" dy="2.5">2</tspan><tspan dy="-2.5">Te</tspan><tspan font-size="8" dy="2.5">3</tspan><tspan dy="-2.5"> (450ºC)</tspan></text>
<line x1="124.10" y1="287.90" x2="133.90" y2="306.30" stroke="#1414C0" stroke-width="0.7" />
<polyline points="148.70,269.80 239.30,217.70 295.70,171.70" fill="none" stroke="#7030A0" stroke-width="1.3" stroke-linejoin="round" />
<circle cx="154.60" cy="265.30" r="3.0" fill="#7030A0"/>
<circle cx="185.10" cy="248.70" r="3.0" fill="#7030A0"/>
<circle cx="207.20" cy="234.90" r="3.0" fill="#7030A0"/>
<circle cx="224.40" cy="226.70" r="3.0" fill="#7030A0"/>
<circle cx="239.30" cy="217.50" r="3.0" fill="#7030A0"/>
<circle cx="251.70" cy="208.00" r="3.0" fill="#7030A0"/>
<circle cx="262.80" cy="193.20" r="3.0" fill="#7030A0"/>
<circle cx="271.40" cy="189.30" r="3.0" fill="#7030A0"/>
<circle cx="295.70" cy="171.70" r="3.0" fill="#7030A0"/>
<polygon points="171.80,261.20 193.40,261.20 193.40,247.40" fill="none" stroke="#7030A0" stroke-width="1.2"/>
<text x="174.7" y="270.5" fill="#7030A0" stroke="#7030A0" stroke-width="0.3" font-family="Liberation Serif" font-weight="bold" font-size="11.5" >2.6</text>
<polygon points="266.50,199.50 282.40,199.50 282.40,186.20" fill="none" stroke="#7030A0" stroke-width="1.2"/>
<text x="266.3" y="209.8" fill="#7030A0" stroke="#7030A0" stroke-width="0.3" font-family="Liberation Serif" font-weight="bold" font-size="12" >3.7</text>
<text x="310.2" y="156" fill="#7030A0" stroke="#7030A0" stroke-width="0.3" font-family="Liberation Serif" font-weight="bold" font-size="13"  textLength="97" lengthAdjust="spacingAndGlyphs">TAGS-85 (400ºC)</text>
<line x1="297.60" y1="171.70" x2="340.50" y2="159.10" stroke="#7030A0" stroke-width="0.7" />
<line x1="198.90" y1="273.80" x2="256.10" y2="196.40" stroke="#1CB4B4" stroke-width="1.7" />
<polygon points="194.90,272.50 204.90,272.50 199.90,281.00" fill="#1CB4B4"/>
<polygon points="231.50,226.00 241.50,226.00 236.50,234.50" fill="#1CB4B4"/>
<polygon points="257.40,185.50 267.40,185.50 262.40,194.00" fill="#1CB4B4"/>
<polygon points="216.50,253.50 228.70,253.50 228.70,238.10" fill="none" stroke="#1CB4B4" stroke-width="1.2"/>
<text x="229.8" y="250.5" fill="#1CB4B4" stroke="#1CB4B4" stroke-width="0.3" font-family="Liberation Serif" font-weight="bold" font-size="9.8" >6.2</text>
<text x="257.4" y="230.5" fill="#1CB4B4" stroke="#1CB4B4" stroke-width="0.3" font-family="Liberation Serif" font-weight="bold" font-size="11"  textLength="68" lengthAdjust="spacingAndGlyphs">Bi<tspan font-size="8" dy="2.5">2</tspan><tspan dy="-2.5">Te</tspan><tspan font-size="8" dy="2.5">3</tspan><tspan dy="-2.5"> (400ºC)</tspan></text>
<line x1="237.80" y1="222.30" x2="255.50" y2="226.80" stroke="#1CB4B4" stroke-width="0.7" />
<line x1="188.90" y1="301.60" x2="250.50" y2="243.00" stroke="#1010E6" stroke-width="2" />
<polygon points="183.65,300.30 194.15,300.30 188.90,308.80" fill="#1010E6"/>
<polygon points="216.85,276.50 227.35,276.50 222.10,285.00" fill="#1010E6"/>
<polygon points="249.05,237.00 259.55,237.00 254.30,245.50" fill="#1010E6"/>
<polygon points="227.30,267.80 248.50,267.80 248.50,251.90" fill="none" stroke="#1010E6" stroke-width="1.2"/>
<text x="251.5" y="266.8" fill="#1010E6" stroke="#1010E6" stroke-width="0.3" font-family="Liberation Serif" font-weight="bold" font-size="11.5" >4.2</text>
<text x="199.5" y="321.4" fill="#1010E6" stroke="#1010E6" stroke-width="0.3" font-family="Liberation Serif" font-weight="bold" font-size="13"  textLength="78.7" lengthAdjust="spacingAndGlyphs">Bi<tspan font-size="8" dy="3">2</tspan><tspan dy="-3">Te</tspan><tspan font-size="8" dy="3">3</tspan><tspan dy="-3">(400ºC)</tspan></text>
<line x1="198.90" y1="294.60" x2="217.70" y2="309.50" stroke="#1010E6" stroke-width="0.7" />
<circle cx="224.40" cy="226.70" r="3.0" fill="#7030A0"/>
<circle cx="239.30" cy="217.50" r="3.0" fill="#7030A0"/>
<circle cx="251.70" cy="208.00" r="3.0" fill="#7030A0"/>
<circle cx="262.80" cy="193.20" r="3.0" fill="#7030A0"/>
<circle cx="271.40" cy="189.30" r="3.0" fill="#7030A0"/>
<line x1="287.20" y1="291.40" x2="414.40" y2="215.60" stroke="#EC1C24" stroke-width="1.6" />
<circle cx="285.70" cy="309.70" r="1.9" fill="#EC1C24"/>
<circle cx="287.20" cy="291.60" r="1.9" fill="#EC1C24"/>
<circle cx="289.40" cy="294.50" r="1.9" fill="#EC1C24"/>
<circle cx="290.80" cy="301.50" r="1.9" fill="#EC1C24"/>
<circle cx="300.20" cy="288.80" r="1.9" fill="#EC1C24"/>
<circle cx="300.90" cy="285.90" r="1.9" fill="#EC1C24"/>
<circle cx="304.50" cy="283.70" r="1.9" fill="#EC1C24"/>
<circle cx="306.70" cy="291.60" r="1.9" fill="#EC1C24"/>
<circle cx="311.00" cy="285.10" r="1.9" fill="#EC1C24"/>
<circle cx="311.50" cy="282.30" r="1.9" fill="#EC1C24"/>
<circle cx="314.70" cy="281.20" r="1.9" fill="#EC1C24"/>
<circle cx="319.70" cy="270.00" r="1.9" fill="#EC1C24"/>
<circle cx="320.10" cy="272.90" r="1.9" fill="#EC1C24"/>
<circle cx="329.80" cy="275.00" r="1.9" fill="#EC1C24"/>
<circle cx="332.70" cy="273.20" r="1.9" fill="#EC1C24"/>
<circle cx="337.50" cy="271.40" r="1.9" fill="#EC1C24"/>
<circle cx="329.80" cy="266.40" r="1.9" fill="#EC1C24"/>
<circle cx="331.70" cy="262.00" r="1.9" fill="#EC1C24"/>
<circle cx="337.00" cy="250.50" r="1.9" fill="#EC1C24"/>
<circle cx="341.40" cy="243.30" r="1.9" fill="#EC1C24"/>
<circle cx="343.50" cy="249.80" r="1.9" fill="#EC1C24"/>
<circle cx="344.30" cy="264.20" r="1.9" fill="#EC1C24"/>
<circle cx="347.60" cy="243.30" r="1.9" fill="#EC1C24"/>
<circle cx="348.60" cy="247.60" r="1.9" fill="#EC1C24"/>
<circle cx="350.80" cy="240.40" r="1.9" fill="#EC1C24"/>
<circle cx="353.60" cy="246.90" r="1.9" fill="#EC1C24"/>
<circle cx="355.80" cy="250.90" r="1.9" fill="#EC1C24"/>
<circle cx="350.50" cy="254.10" r="1.9" fill="#EC1C24"/>
<circle cx="358.70" cy="244.70" r="1.9" fill="#EC1C24"/>
<circle cx="364.80" cy="241.90" r="1.9" fill="#EC1C24"/>
<circle cx="369.60" cy="237.80" r="1.9" fill="#EC1C24"/>
<circle cx="373.50" cy="237.80" r="1.9" fill="#EC1C24"/>
<circle cx="379.00" cy="234.10" r="1.9" fill="#EC1C24"/>
<circle cx="384.50" cy="229.70" r="1.9" fill="#EC1C24"/>
<circle cx="386.20" cy="234.20" r="1.9" fill="#EC1C24"/>
<circle cx="390.30" cy="231.80" r="1.9" fill="#EC1C24"/>
<circle cx="396.30" cy="229.90" r="1.9" fill="#EC1C24"/>
<circle cx="399.90" cy="226.00" r="1.9" fill="#EC1C24"/>
<circle cx="409.00" cy="221.20" r="1.9" fill="#EC1C24"/>
<circle cx="414.40" cy="215.60" r="1.9" fill="#EC1C24"/>
<polygon points="350.10,261.40 374.70,261.40 374.70,246.50" fill="none" stroke="#EC1C24" stroke-width="1.2"/>
<text x="377.8" y="257" fill="#EC1C24" stroke="#EC1C24" stroke-width="0.3" font-family="Liberation Serif" font-weight="bold" font-size="11.5" >2.7</text>
<text x="305.3" y="197.8" fill="#EC1C24" stroke="#EC1C24" stroke-width="0.3" font-family="Liberation Serif" font-weight="bold" font-size="13"  textLength="114.2" lengthAdjust="spacingAndGlyphs">Yb<tspan font-size="8" dy="3">0.3</tspan><tspan dy="-3">Co</tspan><tspan font-size="8" dy="3">3</tspan><tspan dy="-3">Sb</tspan><tspan font-size="8" dy="3">12</tspan><tspan dy="-3"> (500ºC)</tspan></text>
<line x1="378.70" y1="205.60" x2="392.90" y2="227.50" stroke="#EC1C24" stroke-width="0.7" />
<line x1="391.90" y1="333.40" x2="480.00" y2="206.00" stroke="#404040" stroke-width="1.6" />
<polygon points="391.90,321.40 396.20,325.70 391.90,330.00 387.60,325.70" fill="#404040"/>
<polygon points="429.80,280.50 434.10,284.80 429.80,289.10 425.50,284.80" fill="#404040"/>
<polygon points="446.80,260.70 451.10,265.00 446.80,269.30 442.50,265.00" fill="#404040"/>
<polygon points="462.30,237.70 466.60,242.00 462.30,246.30 458.00,242.00" fill="#404040"/>
<polygon points="473.50,218.30 477.80,222.60 473.50,226.90 469.20,222.60" fill="#404040"/>
<polygon points="481.90,196.90 486.20,201.20 481.90,205.50 477.60,201.20" fill="#404040"/>
<polygon points="453.00,265.00 472.50,265.00 472.50,235.80" fill="none" stroke="#404040" stroke-width="1.2"/>
<text x="474.4" y="259.2" fill="#404040" stroke="#404040" stroke-width="0.3" font-family="Liberation Serif" font-weight="bold" font-size="11.5" >7.6</text>
<text x="372.2" y="175.4" fill="#333333" stroke="#333333" stroke-width="0.3" font-family="Liberation Serif" font-weight="bold" font-size="13"  textLength="161.7" lengthAdjust="spacingAndGlyphs">Mg<tspan font-size="8" dy="3">1.96</tspan><tspan dy="-3">Al</tspan><tspan font-size="8" dy="3">0.04</tspan><tspan dy="-3">Si</tspan><tspan font-size="8" dy="3">0.97</tspan><tspan dy="-3">Bi</tspan><tspan font-size="8" dy="3">0.03</tspan><tspan dy="-3"> (500ºC)</tspan></text>
<line x1="441.00" y1="183.50" x2="478.00" y2="208.00" stroke="#404040" stroke-width="0.7" />
<line x1="289.70" y1="334.20" x2="535.40" y2="284.20" stroke="#0A870A" stroke-width="1.8" />
<circle cx="289.70" cy="348.10" r="4.5" fill="#0A870A"/>
<circle cx="343.30" cy="310.20" r="4.5" fill="#0A870A"/>
<circle cx="376.10" cy="307.20" r="4.5" fill="#0A870A"/>
<circle cx="418.50" cy="309.20" r="4.5" fill="#0A870A"/>
<circle cx="446.80" cy="303.70" r="4.5" fill="#0A870A"/>
<circle cx="467.80" cy="296.00" r="4.5" fill="#0A870A"/>
<circle cx="484.70" cy="297.30" r="4.5" fill="#0A870A"/>
<circle cx="499.20" cy="293.60" r="4.5" fill="#0A870A"/>
<circle cx="511.00" cy="292.30" r="4.5" fill="#0A870A"/>
<circle cx="521.90" cy="293.00" r="4.5" fill="#0A870A"/>
<circle cx="535.40" cy="281.00" r="4.5" fill="#0A870A"/>
<polygon points="405.60,320.50 451.40,320.50 451.40,309.20" fill="none" stroke="#0A870A" stroke-width="1.2"/>
<text x="455" y="317.8" fill="#0A870A" stroke="#0A870A" stroke-width="0.3" font-family="Liberation Serif" font-weight="bold" font-size="11.5" >0.7</text>
<text x="305.7" y="355.4" fill="#0A870A" stroke="#0A870A" stroke-width="0.3" font-family="Liberation Serif" font-weight="bold" font-size="13"  textLength="168" lengthAdjust="spacingAndGlyphs">Hf<tspan font-size="8" dy="3">0.3</tspan><tspan dy="-3">Zr</tspan><tspan font-size="8" dy="3">0.7</tspan><tspan dy="-3">NiSn</tspan><tspan font-size="8" dy="3">0.98</tspan><tspan dy="-3">Sb</tspan><tspan font-size="8" dy="3">0.02</tspan><tspan dy="-3"> (600ºC)</tspan></text>
<line x1="352.10" y1="321.60" x2="357.20" y2="343.10" stroke="#0A870A" stroke-width="0.7" />
<polyline points="91.90,725.90 185.70,688.70 405.80,468.10" fill="none" stroke="#9A1B38" stroke-width="2" stroke-linejoin="round" />
<text x="142.3" y="600.3" fill="#B01020" stroke="#B01020" stroke-width="0.3" font-family="Liberation Serif" font-weight="bold" font-size="14.5"  textLength="93.7" lengthAdjust="spacingAndGlyphs">PbTe , T<tspan font-size="10" dy="3">H</tspan><tspan dy="-3">=0.65</tspan></text>
<line x1="225.30" y1="605.70" x2="250.00" y2="623.00" stroke="#A6103A" stroke-width="0.7" />
<line x1="138.50" y1="738.90" x2="314.00" y2="597.00" stroke="#1C75BC" stroke-width="2" />
<text x="384" y="561.6" fill="#1C75BC" stroke="#1C75BC" stroke-width="0.3" font-family="Liberation Serif" font-weight="bold" font-size="14.5"  textLength="100.4" lengthAdjust="spacingAndGlyphs">Bi<tspan font-size="10" dy="3">2</tspan><tspan dy="-3">Te</tspan><tspan font-size="10" dy="3">3</tspan><tspan dy="-3"> , T</tspan><tspan font-size="10" dy="3">H</tspan><tspan dy="-3">=0.90</tspan></text>
<line x1="387.00" y1="567.50" x2="311.00" y2="598.70" stroke="#1C75BC" stroke-width="0.7" />
<line x1="149.70" y1="741.70" x2="272.80" y2="666.50" stroke="#1414C0" stroke-width="2.2" stroke-dasharray="11,8"/>
<text x="106" y="775.3" fill="#1414C0" stroke="#1414C0" stroke-width="0.3" font-family="Liberation Serif" font-weight="bold" font-size="14.5"  textLength="99.5" lengthAdjust="spacingAndGlyphs">Bi<tspan font-size="10" dy="3">2</tspan><tspan dy="-3">Te</tspan><tspan font-size="10" dy="3">3</tspan><tspan dy="-3"> , T</tspan><tspan font-size="10" dy="3">H</tspan><tspan dy="-3">=0.84</tspan></text>
<line x1="154.70" y1="739.60" x2="166.60" y2="760.00" stroke="#1414C0" stroke-width="0.7" />
<line x1="202.70" y1="710.80" x2="392.90" y2="586.70" stroke="#7030A0" stroke-width="2" />
<text x="410.5" y="595.4" fill="#7030A0" stroke="#7030A0" stroke-width="0.3" font-family="Liberation Serif" font-weight="bold" font-size="14.5"  textLength="120" lengthAdjust="spacingAndGlyphs">TAGS-85 , T<tspan font-size="10" dy="3">H</tspan><tspan dy="-3">=0.77</tspan></text>
<line x1="406.50" y1="589.10" x2="376.60" y2="598.10" stroke="#7030A0" stroke-width="0.7" />
<line x1="259.60" y1="722.00" x2="343.30" y2="609.90" stroke="#1CB4B4" stroke-width="2" />
<polygon points="339.80,605.90 349.80,605.90 344.80,614.40" fill="#1CB4B4"/>
<polygon points="305.00,659.50 315.00,659.50 310.00,668.00" fill="#1CB4B4"/>
<polygon points="254.90,722.10 264.90,722.10 259.90,730.60" fill="#1CB4B4"/>
<text x="319.8" y="652.6" fill="#1CB4B4" stroke="#1CB4B4" stroke-width="0.3" font-family="Liberation Serif" font-weight="bold" font-size="10.5"  textLength="77" lengthAdjust="spacingAndGlyphs">Bi<tspan font-size="7.5" dy="2.2">2</tspan><tspan dy="-2.2">Te</tspan><tspan font-size="7.5" dy="2.2">3</tspan><tspan dy="-2.2"> , T</tspan><tspan font-size="7.5" dy="2.2">H</tspan><tspan dy="-2.2">=0.78</tspan></text>
<line x1="327.40" y1="634.70" x2="343.30" y2="641.70" stroke="#1CB4B4" stroke-width="0.7" />
<line x1="245.00" y1="759.80" x2="335.40" y2="675.40" stroke="#1010E6" stroke-width="2" />
<polygon points="330.40,673.40 340.40,673.40 335.40,681.90" fill="#1010E6"/>
<polygon points="285.40,726.80 295.40,726.80 290.40,735.30" fill="#1010E6"/>
<polygon points="240.30,759.80 250.30,759.80 245.30,768.30" fill="#1010E6"/>
<text x="275.5" y="760" fill="#1010E6" stroke="#1010E6" stroke-width="0.3" font-family="Liberation Serif" font-weight="bold" font-size="14.5"  textLength="99.7" lengthAdjust="spacingAndGlyphs">Bi<tspan font-size="10" dy="3">2</tspan><tspan dy="-3">Te</tspan><tspan font-size="10" dy="3">3</tspan><tspan dy="-3"> , T</tspan><tspan font-size="10" dy="3">H</tspan><tspan dy="-3">=0.78</tspan></text>
<line x1="261.00" y1="746.90" x2="272.30" y2="755.70" stroke="#1010E6" stroke-width="0.7" />
<line x1="240.90" y1="744.80" x2="416.30" y2="646.00" stroke="#EC1C24" stroke-width="2" />
<text x="366.6" y="705.7" fill="#EC1C24" stroke="#EC1C24" stroke-width="0.3" font-family="Liberation Serif" font-weight="bold" font-size="14.5"  textLength="80.3" lengthAdjust="spacingAndGlyphs">Yb<tspan font-size="10" dy="3">0.3</tspan><tspan dy="-3">Co</tspan><tspan font-size="10" dy="3">4</tspan><tspan dy="-3">Sb</tspan><tspan font-size="10" dy="3">12</tspan></text>
<text x="366.6" y="719.8" fill="#EC1C24" stroke="#EC1C24" stroke-width="0.3" font-family="Liberation Serif" font-weight="bold" font-size="14.5"  textLength="50.7" lengthAdjust="spacingAndGlyphs">T<tspan font-size="10" dy="3">H</tspan><tspan dy="-3">=0.67</tspan></text>
<line x1="351.50" y1="684.80" x2="362.00" y2="700.00" stroke="#EC1C24" stroke-width="0.7" />
<line x1="418.90" y1="797.40" x2="541.20" y2="628.90" stroke="#262626" stroke-width="1.8" />
<text x="405.9" y="622.3" fill="#333333" stroke="#333333" stroke-width="0.3" font-family="Liberation Serif" font-weight="bold" font-size="14.5"  textLength="129.6" lengthAdjust="spacingAndGlyphs">Mg<tspan font-size="10" dy="3">1.96</tspan><tspan dy="-3">Al</tspan><tspan font-size="10" dy="3">0.04</tspan><tspan dy="-3">Si</tspan><tspan font-size="10" dy="3">0.97</tspan><tspan dy="-3">Bi</tspan><tspan font-size="10" dy="3">0.03</tspan></text>
<text x="405.9" y="639" fill="#333333" stroke="#333333" stroke-width="0.3" font-family="Liberation Serif" font-weight="bold" font-size="14.5"  textLength="51.6" lengthAdjust="spacingAndGlyphs">T<tspan font-size="10" dy="3">H</tspan><tspan dy="-3">=0.57</tspan></text>
<line x1="491.70" y1="630.60" x2="526.50" y2="647.80" stroke="#404040" stroke-width="0.7" />
<line x1="185.80" y1="803.80" x2="520.90" y2="737.30" stroke="#0A870A" stroke-width="2" />
<text x="238" y="803.3" fill="#0A870A" stroke="#0A870A" stroke-width="0.3" font-family="Liberation Serif" font-weight="bold" font-size="12.5"  textLength="167.2" lengthAdjust="spacingAndGlyphs">Hf<tspan font-size="8.5" dy="2.5">0.3</tspan><tspan dy="-2.5">Zr</tspan><tspan font-size="8.5" dy="2.5">0.7</tspan><tspan dy="-2.5">NiSn</tspan><tspan font-size="8.5" dy="2.5">0.98</tspan><tspan dy="-2.5">Sb</tspan><tspan font-size="8.5" dy="2.5">0.02</tspan><tspan dy="-2.5"> , T</tspan><tspan font-size="8.5" dy="2.5">H</tspan><tspan dy="-2.5">=0.51</tspan></text>
<line x1="354.40" y1="770.30" x2="361.70" y2="790.60" stroke="#0A870A" stroke-width="0.7" />
</svg></body></html>
